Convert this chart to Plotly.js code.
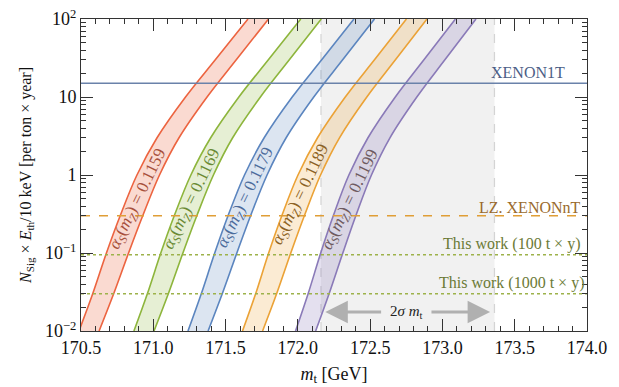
<!DOCTYPE html>
<html>
<head>
<meta charset="utf-8">
<script src="https://cdn.plot.ly/plotly-3.0.1.min.js"></script>
<style>html,body{margin:0;padding:0;background:#fff;}#chart{width:619px;height:387px;}</style>
</head>
<body>
<div id="chart"></div>
<script>
// ---- data ----
const yLevels = [0.01, 0.03, 0.1, 0.3, 1, 3, 10, 30, 100];
const alphaLabels = ['0.1159', '0.1169', '0.1179', '0.1189', '0.1199'];
const redLeft    = [170.486, 170.581, 170.676, 170.771, 170.887, 171.026, 171.223, 171.429, 171.655];
const redRight   = [170.625, 170.726, 170.829, 170.927, 171.043, 171.178, 171.372, 171.574, 171.797];
const greenLeft  = [170.866, 170.959, 171.052, 171.145, 171.260, 171.397, 171.592, 171.796, 172.020];
const greenRight = [171.005, 171.104, 171.205, 171.301, 171.416, 171.549, 171.741, 171.941, 172.162];
const blueLeft   = [171.240, 171.332, 171.425, 171.517, 171.631, 171.767, 171.961, 172.165, 172.388];
const blueRight  = [171.379, 171.477, 171.578, 171.673, 171.787, 171.919, 172.110, 172.310, 172.530];
const orangeLeft = [171.617, 171.708, 171.798, 171.889, 172.001, 172.136, 172.328, 172.530, 172.751];
const orangeRight= [171.756, 171.853, 171.951, 172.045, 172.157, 172.288, 172.477, 172.675, 172.893];
const purpleLeft = [171.984, 172.071, 172.158, 172.245, 172.353, 172.485, 172.674, 172.872, 173.090];
const purpleRight= [172.123, 172.216, 172.311, 172.401, 172.509, 172.637, 172.823, 173.017, 173.232];

const xenon1T = 15;
const lzXenonNT = 0.3;
const thisWork100 = 0.095;
const thisWork1000 = 0.03;
const mtTwoSigma = [172.16, 173.36];
const xRange = [170.5, 174.0];

// ---- styles ----
const bands = [
  {L: redLeft,    R: redRight,    line: '#ec6440', fill: 'rgba(236,100,64,0.24)', txt: '#a8503c'},
  {L: greenLeft,  R: greenRight,  line: '#8db53c', fill: 'rgba(141,181,60,0.22)', txt: '#6a8a34'},
  {L: blueLeft,   R: blueRight,   line: '#5b85bf', fill: 'rgba(91,133,191,0.21)', txt: '#4d6c9c'},
  {L: orangeLeft, R: orangeRight, line: '#eba236', fill: 'rgba(235,162,54,0.22)', txt: '#8c6224'},
  {L: purpleLeft, R: purpleRight, line: '#8a7ab8', fill: 'rgba(138,122,184,0.23)', txt: '#6e5a60'}
];

const traces = [];
bands.forEach(b => {
  traces.push({x: b.L, y: yLevels, mode: 'lines', line: {color: b.line, width: 1.6, shape: 'spline', smoothing: 1},
    showlegend: false, hoverinfo: 'skip'});
  traces.push({x: b.R, y: yLevels, mode: 'lines', fill: 'tonextx', fillcolor: b.fill,
    line: {color: b.line, width: 1.6, shape: 'spline', smoothing: 1}, showlegend: false, hoverinfo: 'skip'});
});

function hline(v, color, dash) {
  return {x: xRange, y: [v, v], mode: 'lines', line: {color: color, width: 1.5, dash: dash}, showlegend: false, hoverinfo: 'skip'};
}
traces.push(hline(xenon1T, '#6a82aa', 'solid'));
traces.push(hline(lzXenonNT, '#e09e36', 'dash'));
traces.push(hline(thisWork100, '#9db24a', 'dot'));
traces.push(hline(thisWork1000, '#9db24a', 'dot'));

// band labels
function interpLog(yArr, xArr, yv) {
  const ly = Math.log10(yv);
  for (let i = 0; i < yArr.length - 1; i++) {
    const a = Math.log10(yArr[i]), b = Math.log10(yArr[i + 1]);
    if (ly >= a && ly <= b) { const t = (ly - a) / (b - a); return xArr[i] + t * (xArr[i + 1] - xArr[i]); }
  }
  return xArr[0];
}
const labelY = [0.48, 0.48, 0.5, 0.55, 0.48];
const annotations = [];
bands.forEach((b, i) => {
  const xc = 0.5 * (interpLog(yLevels, b.L, labelY[i]) + interpLog(yLevels, b.R, labelY[i]));
  annotations.push({
    x: xc, y: Math.log10(labelY[i]), xref: 'x', yref: 'y', showarrow: false,
    text: '<i>α</i><sub><i>S</i></sub>(<i>m</i><sub><i>Z</i></sub>) = ' + alphaLabels[i],
    textangle: -64, font: {size: 17, color: b.txt}
  });
});

const serif = '"Liberation Serif", "Times New Roman", Times, serif';
annotations.push({x: 173.86, y: 1.31, xref: 'x', yref: 'y', xanchor: 'right', yanchor: 'middle', showarrow: false,
  text: 'XENON1T', font: {size: 16, color: '#4b5e86'}});
annotations.push({x: 173.975, y: -0.42, xref: 'x', yref: 'y', xanchor: 'right', yanchor: 'middle', showarrow: false,
  text: 'LZ. XENONnT', font: {size: 16, color: '#9a6a2c'}});
annotations.push({x: 173.965, y: -0.885, xref: 'x', yref: 'y', xanchor: 'right', yanchor: 'middle', showarrow: false,
  text: 'This work (100 t × y)', font: {size: 16, color: '#6b7a36'}});
annotations.push({x: 173.99, y: -1.38, xref: 'x', yref: 'y', xanchor: 'right', yanchor: 'middle', showarrow: false,
  text: 'This work (1000 t × y)', font: {size: 16, color: '#6b7a36'}});

// 2 sigma arrow
const arrowY = Math.log10(0.0175);
annotations.push({x: 172.19, y: arrowY, ax: 172.60, ay: arrowY, xref: 'x', yref: 'y', axref: 'x', ayref: 'y',
  showarrow: true, arrowhead: 2, arrowsize: 1.5, arrowwidth: 3, arrowcolor: '#b0b0b0', text: ' '});
annotations.push({x: 173.33, y: arrowY, ax: 172.90, ay: arrowY, xref: 'x', yref: 'y', axref: 'x', ayref: 'y',
  showarrow: true, arrowhead: 2, arrowsize: 1.5, arrowwidth: 3, arrowcolor: '#b0b0b0', text: ' '});
annotations.push({x: 172.75, y: arrowY, xref: 'x', yref: 'y', showarrow: false,
  text: '2<i>σ</i> <i>m</i><sub>t</sub>', font: {size: 15, color: '#222'}});

const shapes = [
  {type: 'rect', xref: 'x', yref: 'paper', x0: mtTwoSigma[0], x1: mtTwoSigma[1], y0: 0, y1: 1,
   fillcolor: '#f1f1f1', line: {width: 0}, layer: 'below'},
  {type: 'line', xref: 'x', yref: 'paper', x0: mtTwoSigma[0], x1: mtTwoSigma[0], y0: 0, y1: 1,
   line: {color: '#d4d4d4', width: 1.2, dash: 'dash'}, layer: 'below'},
  {type: 'line', xref: 'x', yref: 'paper', x0: mtTwoSigma[1], x1: mtTwoSigma[1], y0: 0, y1: 1,
   line: {color: '#d4d4d4', width: 1.2, dash: 'dash'}, layer: 'below'}
];

const yMinor = [];
[0.01, 0.1, 1, 10].forEach(d => { for (let k = 2; k <= 9; k++) yMinor.push(d * k); });

const layout = {
  width: 619, height: 387,
  margin: {l: 81, r: 32, t: 19, b: 56},
  paper_bgcolor: '#fff', plot_bgcolor: '#fff',
  font: {family: serif, size: 17, color: '#111'},
  showlegend: false,
  xaxis: {
    range: xRange, type: 'linear', tickmode: 'array',
    tickvals: [170.5, 171.0, 171.5, 172.0, 172.5, 173.0, 173.5, 174.0],
    ticktext: ['170.5', '171.0', '171.5', '172.0', '172.5', '173.0', '173.5', '174.0'],
    ticks: 'inside', ticklen: 12, tickwidth: 1, tickcolor: '#333',
    minor: {dtick: 0.1, tick0: 170.5, ticks: 'inside', ticklen: 5, tickwidth: 1, tickcolor: '#333'},
    showline: true, linecolor: '#333', linewidth: 1, mirror: 'ticks',
    showgrid: false, zeroline: false,
    tickfont: {size: 18},
    title: {text: '<i>m</i><sub>t</sub> [GeV]', font: {size: 18}, standoff: 10}
  },
  yaxis: {
    type: 'log', range: [-2, 2], tickmode: 'array',
    tickvals: [0.01, 0.1, 1, 10, 100],
    ticktext: ['10<sup>−2</sup>', '10<sup>−1</sup>', '1', '10', '10<sup>2</sup>'],
    ticks: 'inside', ticklen: 12, tickwidth: 1, tickcolor: '#333',
    minor: {tickmode: 'array', tickvals: yMinor, ticks: 'inside', ticklen: 5, tickwidth: 1, tickcolor: '#333'},
    showline: true, linecolor: '#333', linewidth: 1, mirror: 'ticks',
    showgrid: false, zeroline: false,
    tickfont: {size: 18},
    title: {text: '<i>N</i><sub>Sig</sub> × <i>E</i><sub>th</sub>/10 keV [per ton × year]', font: {size: 16}, standoff: 9}
  },
  shapes: shapes,
  annotations: annotations
};

Plotly.newPlot('chart', traces, layout, {displayModeBar: false, staticPlot: true});
</script>
</body>
</html>
